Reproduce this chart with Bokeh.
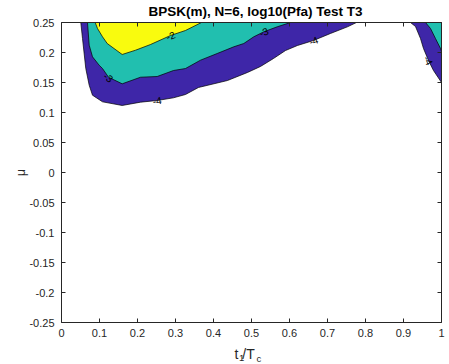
import math
from bokeh.plotting import figure
from bokeh.models import Range1d, FixedTicker, LinearAxis, Label, ColumnDataSource
from bokeh.core.properties import value
from bokeh.embed import file_html
from bokeh.resources import INLINE

# ---------------- data ----------------
title_text = "BPSK(m), N=6, log10(Pfa) Test T3"
x_ticks = [0.0, 0.1, 0.2, 0.3, 0.4, 0.5, 0.6, 0.7, 0.8, 0.9, 1.0]
x_tick_labels = ["0", "0.1", "0.2", "0.3", "0.4", "0.5", "0.6", "0.7", "0.8", "0.9", "1"]
y_ticks = [-0.25, -0.2, -0.15, -0.1, -0.05, 0.0, 0.05, 0.1, 0.15, 0.2, 0.25]
y_tick_labels = ["-0.25", "-0.2", "-0.15", "-0.1", "-0.05", "0", "0.05", "0.1", "0.15", "0.2", "0.25"]

# contour boundaries (t1/Tc, mu); regions close along the upper edge mu = 0.25
c4_left_x = [0.0508, 0.0553, 0.0639, 0.0729, 0.0816, 0.1079, 0.1597, 0.2079, 0.2518, 0.2947,
             0.3263, 0.3605, 0.4368, 0.4895, 0.5237, 0.5579, 0.5895, 0.6211, 0.6632, 0.7079,
             0.7526, 0.7763]
c4_left_y = [0.25, 0.2233, 0.1733, 0.1455, 0.1288, 0.1178, 0.1117, 0.1172, 0.12, 0.1245,
             0.13, 0.1417, 0.1533, 0.1667, 0.1767, 0.19, 0.2033, 0.2117, 0.22, 0.2317,
             0.2428, 0.25]
c4_right_x = [0.9184, 0.9316, 0.9447, 0.9526, 0.9658, 0.9789, 1.0, 1.0]
c4_right_y = [0.25, 0.2433, 0.2233, 0.2067, 0.1867, 0.17, 0.15, 0.25]

c3_left_x = [0.0684, 0.0729, 0.0816, 0.0992, 0.1079, 0.1237, 0.1597, 0.2079, 0.2518, 0.2947,
             0.3263, 0.3658, 0.4097, 0.4534, 0.4797, 0.5061, 0.5324, 0.5676, 0.6026]
c3_left_y = [0.25, 0.2122, 0.1928, 0.1788, 0.1733, 0.1588, 0.1478, 0.1588, 0.16, 0.17,
             0.1733, 0.1872, 0.1983, 0.2095, 0.215, 0.2262, 0.2345, 0.2428, 0.25]
c3_right_x = [0.9579, 0.9711, 0.9842, 0.9974, 1.0, 1.0]
c3_right_y = [0.25, 0.24, 0.2233, 0.2067, 0.2017, 0.25]

c2_left_x = [0.0887, 0.0947, 0.1079, 0.1203, 0.1597, 0.1947, 0.2342, 0.2868, 0.3263, 0.3684]
c2_left_y = [0.25, 0.24, 0.2262, 0.215, 0.1967, 0.2038, 0.2133, 0.2283, 0.2367, 0.25]

color_m4 = "#3e26a8"
color_m3 = "#21bfaf"
color_m2 = "#f9fb0e"

# contour labels: (text, curve x, curve y, vertex index)
label_specs = [
    ("-2", c2_left_x, c2_left_y, 7),
    ("-3", c3_left_x, c3_left_y, 5),
    ("-3", c3_left_x, c3_left_y, 16),
    ("-4", c4_left_x, c4_left_y, 8),
    ("-4", c4_left_x, c4_left_y, 18),
    ("-4", c4_right_x, c4_right_y, 4),
]

# ---------------- figure ----------------
W, H = 449, 364
L, R, T, B = 61, 8, 22, 42
FW, FH = W - L - R, H - T - B
XMIN, XMAX, YMIN, YMAX = 0.0, 1.0, -0.25, 0.25

p = figure(width=W, height=H, output_backend="svg", toolbar_location=None,
           x_range=Range1d(XMIN, XMAX), y_range=Range1d(YMIN, YMAX),
           min_border_left=L, min_border_right=R, min_border_top=T, min_border_bottom=B,
           title=None)
p.outline_line_color = None
p.xgrid.visible = False
p.ygrid.visible = False
p.background_fill_color = "white"
p.border_fill_color = "white"

FONT = "Liberation Sans"
AX = "#262626"

def style_axis(ax, ticks, labels, show_labels=True, standoff=5):
    ax.ticker = FixedTicker(ticks=ticks)
    ax.major_label_overrides = dict(zip(ticks, labels))
    ax.axis_line_color = AX
    ax.major_tick_line_color = AX
    ax.major_tick_in = 4
    ax.major_tick_out = 0
    ax.minor_tick_line_color = None
    ax.major_label_text_font = FONT
    ax.major_label_text_color = AX
    ax.major_label_text_font_size = "11px" if show_labels else "0px"
    ax.major_label_standoff = standoff if show_labels else 0

style_axis(p.xaxis[0], x_ticks, x_tick_labels, True, 6)
style_axis(p.yaxis[0], y_ticks, y_tick_labels, True, 7)
top_ax = LinearAxis()
style_axis(top_ax, x_ticks, ["" for _ in x_ticks], False)
p.add_layout(top_ax, "above")
right_ax = LinearAxis()
style_axis(right_ax, y_ticks, ["" for _ in y_ticks], False)
p.add_layout(right_ax, "right")

# filled contour regions
for xs, ys, col in [(c4_left_x, c4_left_y, color_m4), (c4_right_x, c4_right_y, color_m4),
                    (c3_left_x, c3_left_y, color_m3), (c3_right_x, c3_right_y, color_m3),
                    (c2_left_x, c2_left_y, color_m2)]:
    p.patch(xs, ys, fill_color=col, line_color="black", line_width=0.7)

# contour labels
sx_scale = FW / (XMAX - XMIN)
sy_scale = FH / (YMAX - YMIN)
lx, ly, lt, la = [], [], [], []
for txt, xs, ys, i in label_specs:
    lx.append(xs[i]); ly.append(ys[i]); lt.append(txt)
    ang = math.atan2((ys[i + 1] - ys[i - 1]) * sy_scale, (xs[i + 1] - xs[i - 1]) * sx_scale)
    la.append(ang)
src = ColumnDataSource(dict(x=lx, y=ly, text=lt, angle=la))
p.text(x="x", y="y", text="text", angle="angle", source=src,
       text_font=value(FONT), text_font_size="10px", text_color="black",
       text_align="center", text_baseline="middle")

# screen-pixel -> data helpers for annotations outside the frame
def dxp(px):
    return XMIN + (px - L) / sx_scale
def dyp(py):
    return YMAX - (py - T) / sy_scale

def lab(txt, px, py, fs, side, bold=False, angle=0.0, align="left", baseline="alphabetic"):
    p.add_layout(Label(x=dxp(px), y=dyp(py), text=txt, text_font=FONT, text_font_size=fs,
                       text_font_style="bold" if bold else "normal",
                       text_color="black" if bold else AX, angle=angle,
                       text_align=align, text_baseline=baseline), side)

lab(title_text, 255, 11, "13.5px", "above", bold=True, align="center")
lab("t /T", 234, 353, "14px", "below")
lab("1", 238.5, 357, "9.5px", "left")
lab("c", 256, 358, "9.5px", "right")
lab("μ", 20, 172, "12px", "left", angle=math.pi / 2, align="center", baseline="middle")

open("out.html", "w").write(file_html(p, INLINE))
